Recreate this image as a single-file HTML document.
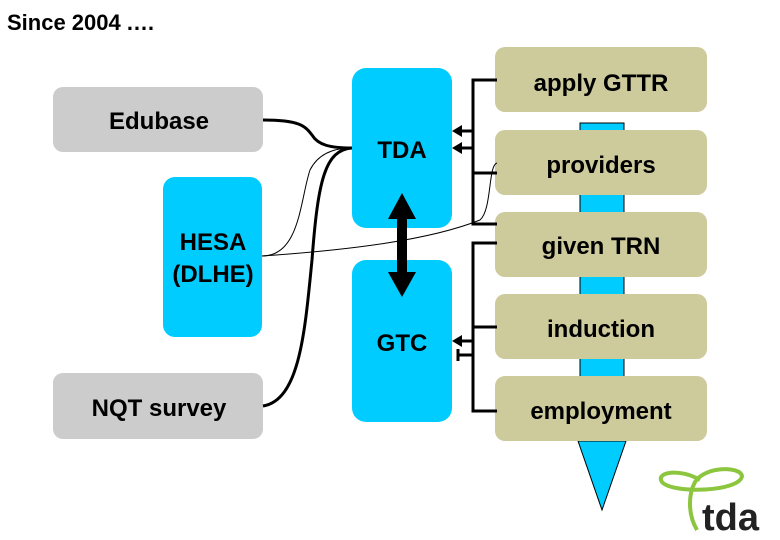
<!DOCTYPE html>
<html><head><style>body{margin:0;background:#fff}svg{display:block}</style></head><body>
<svg width="780" height="540" viewBox="0 0 780 540" xmlns="http://www.w3.org/2000/svg" font-family="Liberation Sans, Arial, sans-serif">
<text x="7" y="30" font-size="22" font-weight="bold">Since 2004 .…</text>
<rect x="580" y="123" width="44" height="320" fill="#00ccff" stroke="#000" stroke-width="1"/>
<polygon points="578,441 626,441 602,510" fill="#00ccff" stroke="#000" stroke-width="1"/>
<g fill="#cdca9c">
<rect x="495" y="47" width="212" height="65" rx="10"/>
<rect x="495" y="130" width="212" height="65" rx="10"/>
<rect x="495" y="212" width="212" height="65" rx="10"/>
<rect x="495" y="294" width="212" height="65" rx="10"/>
<rect x="495" y="376" width="212" height="65" rx="10"/>
</g>
<g font-size="24" font-weight="bold" text-anchor="middle">
<text x="601" y="91">apply GTTR</text>
<text x="601" y="173">providers</text>
<text x="601" y="254">given TRN</text>
<text x="601" y="337">induction</text>
<text x="601" y="419">employment</text>
</g>
<rect x="53" y="87" width="210" height="65" rx="10" fill="#cccccc"/>
<rect x="53" y="373" width="210" height="66" rx="10" fill="#cccccc"/>
<rect x="163" y="177" width="99" height="160" rx="12" fill="#00ccff"/>
<rect x="352" y="68" width="100" height="160" rx="14" fill="#00ccff"/>
<rect x="352" y="260" width="100" height="162" rx="14" fill="#00ccff"/>
<g font-size="24" font-weight="bold" text-anchor="middle">
<text x="159" y="129">Edubase</text>
<text x="159" y="416">NQT survey</text>
<text x="213" y="250">HESA</text>
<text x="213" y="282">(DLHE)</text>
<text x="402" y="158">TDA</text>
<text x="402" y="351">GTC</text>
</g>
<g fill="none" stroke="#000">
<path d="M263,120 C300,120 305,126 312,135 C318,145 330,148 352,148" stroke-width="3"/>
<path d="M263,406 C300,400 305,330 312,260 C318,180 325,150 352,148" stroke-width="3"/>
<path d="M262,256 C300,256 300,200 310,170 C320,150 340,148 352,148" stroke-width="1"/>
<path d="M262,256 C350,250 430,240 480,220 C492,210 488,165 497,163" stroke-width="1"/>
<path d="M497,80 H473 V224 H497 M473,173 H497" stroke-width="3"/>
<path d="M497,243 H473 V411 H497 M473,327 H497" stroke-width="3"/>
<path d="M473,131 H460 M473,148 H460 M473,341 H460 M473,355 H458 M458,349 V361" stroke-width="3"/>
</g>
<polygon points="452,131 462,125 462,137" fill="#000"/>
<polygon points="452,148 462,142 462,154" fill="#000"/>
<polygon points="452,341 462,335 462,347" fill="#000"/>
<polygon points="402,193 416,219 407,219 407,272 416,272 402,297 388,272 397,272 397,219 388,219" fill="#000"/>
<path d="M700,480 C680,468 655,472 662,482 C672,494 740,492 742,476 C740,466 705,466 695,482 C688,495 688,515 697,530" fill="none" stroke="#8cc63f" stroke-width="4"/>
<text x="702" y="530" font-size="38" font-weight="bold" fill="#222">tda</text>
</svg>
</body></html>
